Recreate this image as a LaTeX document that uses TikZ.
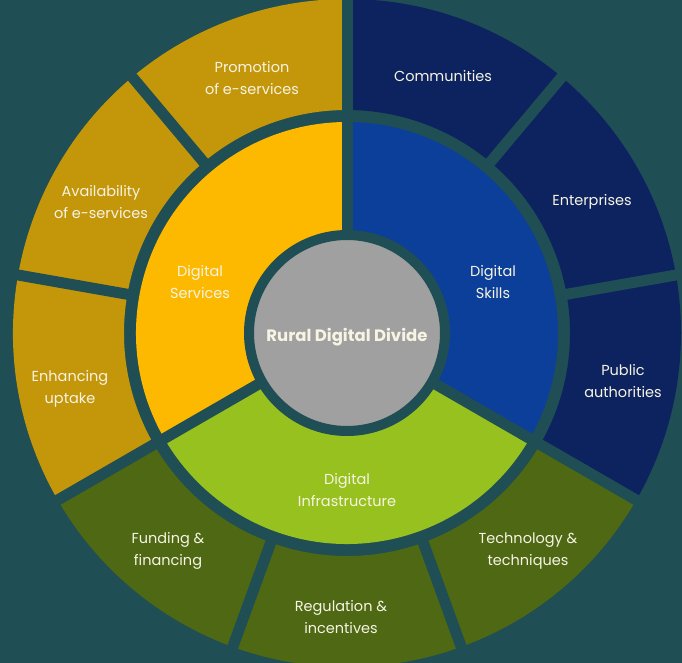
\documentclass[tikz,border=0pt]{standalone}
\usepackage{fontspec}
\setmainfont{Poppins}
\usepackage{tikz}
\usetikzlibrary{calc}

\definecolor{bgteal}{RGB}{31,78,84}
\definecolor{srvouter}{RGB}{196,150,10}
\definecolor{srvinner}{RGB}{253,185,0}
\definecolor{sklouter}{RGB}{13,35,96}
\definecolor{sklinner}{RGB}{11,63,154}
\definecolor{infouter}{RGB}{78,104,20}
\definecolor{infinner}{RGB}{151,193,31}
\definecolor{hubgray}{RGB}{160,160,160}
\definecolor{labelcol}{RGB}{247,244,228}

% annular piece: colour, start angle, end angle, inner radius, outer radius
\newcommand{\ringpart}[5]{%
\fill[#1] (#2:#4) arc[start angle=#2,end angle=#3,radius=#4]
  -- (#3:#5) arc[start angle=#3,end angle=#2,radius=#5] -- cycle;}

\begin{document}
\begin{tikzpicture}[x=1pt,y=1pt,
gap/.style={draw=bgteal,line width=11pt},
lbl/.style={text=labelcol,font=\fontsize{14.5}{22}\selectfont,align=center},
hublbl/.style={text=labelcol,font=\bfseries\fontsize{16.5}{22}\selectfont}]
\fill[bgteal] (-347,-330) rectangle (335,333);
\useasboundingbox (-347,-330) rectangle (335,333);

% inner ring
\ringpart{sklinner}{-30}{90}{100}{211}
\ringpart{srvinner}{90}{210}{100}{211}
\ringpart{infinner}{210}{330}{100}{211}
% outer ring
\ringpart{sklouter}{-30}{90}{223}{334}
\ringpart{srvouter}{90}{210}{223}{334}
\ringpart{infouter}{210}{330}{223}{334}

% spokes
\foreach \a in {90,210,330}
  \draw[gap] (0,0) -- (\a:340);
\foreach \a in {50,10,130,170,250,290}
  \draw[gap] (\a:215) -- (\a:340);

% hub
\filldraw[hubgray,draw=bgteal,line width=10pt] (0,0) circle[radius=98];

\node[hublbl] (hub) at (0,-4) {Rural Digital Divide};

\node[lbl] (skills) at (146,51) {Digital\\Skills};
\node[lbl] (services) at (-147,51) {Digital\\Services};
\node[lbl] (infra) at (0,-157) {Digital\\Infrastructure};

\node[lbl] (comm) at (96,257) {Communities};
\node[lbl] (ent) at (245,131) {Enterprises};
\node[lbl] (pub) at (276,-48) {Public\\authorities};
\node[lbl] (promo) at (-95,255) {Promotion\\of e-services};
\node[lbl] (avail) at (-246,131) {Availability\\of e-services};
\node[lbl] (uptake) at (-277,-56) {Enhancing\\uptake};
\node[lbl] (fund) at (-179,-218) {Funding \&\\financing};
\node[lbl] (regul) at (-6,-284) {Regulation \&\\incentives};
\node[lbl] (tech) at (181,-218) {Technology \&\\techniques};
\end{tikzpicture}
\end{document}
